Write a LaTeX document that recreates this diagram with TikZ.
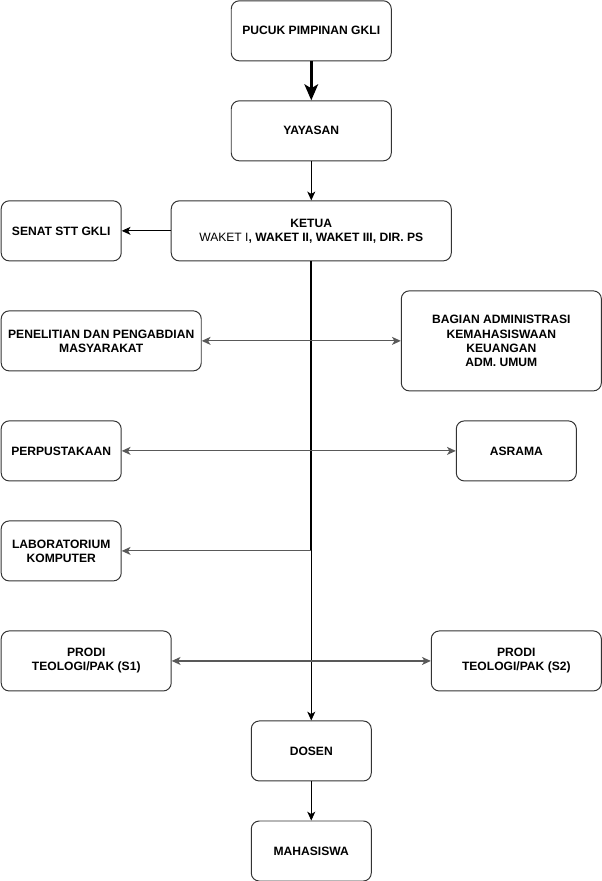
\documentclass[tikz,border=0pt]{standalone}
\usepackage{fontspec}
\setmainfont{Liberation Sans}
\usetikzlibrary{arrows.meta,positioning}

\begin{document}
\begin{tikzpicture}[
    every node/.style={font=\fontsize{8.6}{10}\selectfont\bfseries},
    unitbox/.style={draw=black!80, line width=0.7pt, rounded corners=0.2cm, align=center, minimum height=1.5cm, minimum width=3cm, inner sep=2pt},
    flow/.style={-{Stealth[length=2.2mm,width=2mm,inset=0.6mm]}, line width=0.6pt},
    link/.style={{Stealth[length=2.2mm,width=2mm,inset=0.6mm]}-{Stealth[length=2.2mm,width=2mm,inset=0.6mm]}, line width=0.8pt, draw=black!65},
    mainflow/.style={-{Stealth[length=4mm,width=3.4mm,inset=1mm]}, line width=2pt}
]
\useasboundingbox (-0.03,0.02) rectangle (15.0,-22.0);

\node[unitbox, minimum width=4cm] (pucuk) at (7.75,-0.75) {PUCUK PIMPINAN GKLI};
\node[unitbox, minimum width=4cm] (yayasan) at (7.75,-3.25) {YAYASAN};
\node[unitbox, minimum width=7cm] (ketua) at (7.75,-5.75) {KETUA\\{\mdseries WAKET I}, WAKET II, WAKET III, DIR. PS};
\node[unitbox] (senat) at (1.5,-5.75) {SENAT STT GKLI};

\node[unitbox, minimum width=5cm] (penelitian) at (2.5,-8.5) {PENELITIAN DAN PENGABDIAN\\MASYARAKAT};
\node[unitbox, minimum width=5cm, minimum height=2.5cm] (bagian) at (12.5,-8.5) {BAGIAN ADMINISTRASI\\KEMAHASISWAAN\\KEUANGAN\\ADM. UMUM};
\node[unitbox] (perpus) at (1.5,-11.25) {PERPUSTAKAAN};
\node[unitbox] (asrama) at (12.875,-11.25) {ASRAMA};
\node[unitbox] (lab) at (1.5,-13.75) {LABORATORIUM\\KOMPUTER};
\node[unitbox, minimum width=4.25cm] (prodisatu) at (2.125,-16.5) {PRODI\\TEOLOGI/PAK (S1)};
\node[unitbox, minimum width=4.25cm] (prodidua) at (12.875,-16.5) {PRODI\\TEOLOGI/PAK (S2)};
\node[unitbox] (dosen) at (7.75,-18.75) {DOSEN};
\node[unitbox] (mhs) at (7.75,-21.25) {MAHASISWA};

\coordinate (labjoin) at (ketua.south |- lab.east);
\draw[mainflow] (pucuk) -- (yayasan);
\draw[flow] (yayasan) -- (ketua);
\draw[flow] (ketua) -- (senat);
\draw[line width=1.4pt] (ketua.south) -- (labjoin);
\draw[flow] (labjoin) -- (dosen.north);
\draw[flow] (dosen) -- (mhs);

\draw[link] (penelitian) -- (bagian);
\draw[link] (perpus) -- (asrama);
\draw[link, -{Stealth[length=2.2mm,width=2mm,inset=0.6mm]}] (labjoin) -- (lab);
\draw[link] (prodisatu) -- (prodidua);
\end{tikzpicture}
\end{document}
